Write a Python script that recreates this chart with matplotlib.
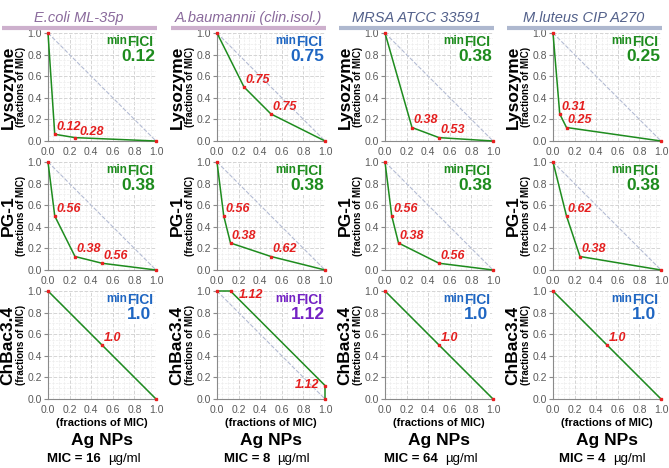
import matplotlib.pyplot as plt
from matplotlib.ticker import MultipleLocator

plt.rcParams['font.family'] = ['Liberation Sans', 'DejaVu Sans']

strains = ['E.coli ML-35p', 'A.baumannii (clin.isol.)', 'MRSA ATCC 33591', 'M.luteus CIP A270']
mic_agnp = ['16', '8', '64', '4']
peptides = ['Lysozyme', 'PG-1', 'ChBac3.4']
ticks = [0.0, 0.2, 0.4, 0.6, 0.8, 1.0]
tick_labels = ['0.0', '0.2', '0.4', '0.6', '0.8', '1.0']

# isobologram points: x = Ag NPs, y = peptide (fractions of MIC), per row then column
iso_x = [
    [[0, 0.0625, 0.25, 1], [0, 0.25, 0.5, 1], [0, 0.25, 0.5, 1], [0, 0.0625, 0.125, 1]],
    [[0, 0.0625, 0.25, 0.5, 1], [0, 0.0625, 0.125, 0.5, 1], [0, 0.0625, 0.125, 0.5, 1], [0, 0.125, 0.25, 1]],
    [[0, 0.5, 1], [0, 0.125, 1, 1], [0, 0.5, 1], [0, 0.5, 1]],
]
iso_y = [
    [[1, 0.0625, 0.03125, 0], [1, 0.5, 0.25, 0], [1, 0.125, 0.03125, 0], [1, 0.25, 0.125, 0]],
    [[1, 0.5, 0.125, 0.0625, 0], [1, 0.5, 0.25, 0.125, 0], [1, 0.5, 0.25, 0.0625, 0], [1, 0.5, 0.125, 0]],
    [[1, 0.5, 0], [1, 1, 0.125, 0], [1, 0.5, 0], [1, 0.5, 0]],
]
# FICI labels for each point (None = no label)
fici = [
    [[None, '0.12', '0.28', None], [None, '0.75', '0.75', None], [None, '0.38', '0.53', None], [None, '0.31', '0.25', None]],
    [[None, '0.56', '0.38', '0.56', None], [None, '0.56', '0.38', '0.62', None], [None, '0.56', '0.38', '0.56', None], [None, '0.62', '0.38', None]],
    [[None, '1.0', None], [None, '1.12', '1.12', None], [None, '1.0', None], [None, '1.0', None]],
]
min_fici = [
    ['0.12', '0.75', '0.38', '0.25'],
    ['0.38', '0.38', '0.38', '0.38'],
    ['1.0', '1.12', '1.0', '1.0'],
]

GREEN = '#1e8c1e'
BLUE = '#1f66c2'
PURPLE = '#7422c4'
fici_col = {'0.12': GREEN, '0.38': GREEN, '0.25': GREEN, '0.75': BLUE, '1.0': BLUE, '1.12': PURPLE}

W, H = 669, 468
fig = plt.figure(figsize=(W / 100, H / 100), dpi=100)

lefts = [48, 217, 385, 553]
tops = [33, 162, 291]
size = 108

title_col = ['#8a6a9c', '#8a6a9c', '#52608a', '#52608a']
bar_col = ['#cdb0cd', '#cdb0cd', '#aeb8cf', '#aeb8cf']

for c in range(4):
    L = lefts[c]
    fig.text((L + 31) / W, 1 - 18 / H, strains[c], ha='center', va='center',
             style='italic', fontsize=10.5, color=title_col[c])
    fig.add_artist(plt.Line2D([(L - 46) / W, (L + 109) / W], [1 - 28 / H, 1 - 28 / H],
                              color=bar_col[c], lw=3, solid_capstyle='butt'))
    cx = (L + size / 2) / W
    fig.text(cx, 1 - 423 / H, '(fractions of MIC)', ha='center', va='center',
             fontsize=8, fontweight='bold')
    fig.text(cx, 1 - 441 / H, 'Ag NPs', ha='center', va='center',
             fontsize=12.5, fontweight='bold')
    fig.text(cx + 6 / W, 1 - 459 / H, 'MIC = ' + mic_agnp[c] + '  ', ha='right', va='center',
             fontsize=9.5, fontweight='bold')
    fig.text(cx + 6 / W, 1 - 459 / H, 'µg/ml', ha='left', va='center', fontsize=9.5)

    for r in range(3):
        T = tops[r]
        ax = fig.add_axes([L / W, 1 - (T + size) / H, size / W, size / H])
        ax.set_xlim(0, 1)
        ax.set_ylim(0, 1)
        ax.set_xticks(ticks, tick_labels)
        ax.set_yticks(ticks, tick_labels)
        ax.xaxis.set_minor_locator(MultipleLocator(0.05))
        ax.yaxis.set_minor_locator(MultipleLocator(0.05))
        ax.grid(which='major', color='#d4d4d4', ls='--', lw=0.7)
        ax.grid(which='minor', color='#ececec', ls='--', lw=0.5)
        ax.set_axisbelow(True)
        for s in ['top', 'right']:
            ax.spines[s].set_visible(False)
        for s in ['left', 'bottom']:
            ax.spines[s].set_color('#8a8a8a')
        ax.tick_params(which='major', labelsize=7.5, labelcolor='#5a5a5a', color='#8a8a8a',
                       length=3, pad=1.5)
        ax.tick_params(axis='x', which='major', length=0, pad=4)
        ax.tick_params(which='minor', length=0)

        ax.plot([0, 1], [1, 0], color='#b4bcd4', ls='--', lw=0.8, zorder=2)
        xs, ys = iso_x[r][c], iso_y[r][c]
        ax.plot(xs, ys, color=GREEN, lw=1.1, zorder=3, clip_on=False)
        ax.plot(xs, ys, 's', color='#e82020', ms=2, zorder=4, clip_on=False)
        for i, (x, y, lab) in enumerate(zip(xs, ys, fici[r][c])):
            if lab is None:
                continue
            if x == 1:
                off, ha, va = (-4, 0), 'right', 'center'
            elif y == 1:
                off, ha, va = (6, -3), 'left', 'center'
            elif i > 1 and xs[i - 1] < 0.1 and ys[i - 1] < 0.1:
                off, ha, va = (3.5, -0.5), 'left', 'bottom'
            else:
                off, ha, va = (1, 1), 'left', 'bottom'
            ax.annotate(lab, (x, y), xytext=off, textcoords='offset points', ha=ha, va=va,
                        color='#e41e1e', fontsize=9, fontweight='bold', style='italic', zorder=5)

        col = fici_col[min_fici[r][c]]
        ft = ax.text(0.97, 0.92, 'FICI', transform=ax.transAxes, ha='right', va='center',
                     fontsize=10, fontweight='bold', color=col, zorder=6)
        ax.annotate('min', xy=(0, 0.12), xycoords=ft, ha='right', va='bottom',
                    fontsize=8.5, fontweight='bold', color=col, zorder=6)
        ax.text(0.84, 0.78, min_fici[r][c], transform=ax.transAxes, ha='center', va='center',
                fontsize=12.5, fontweight='bold', color=col, zorder=6,
                bbox=dict(boxstyle='square,pad=0.1', fc='white', ec='none'))

        yc = 1 - (T + size / 2) / H
        fig.text((L - 40) / W, yc, peptides[r], rotation=90, ha='center', va='center',
                 fontsize=12.5, fontweight='bold')
        fig.text((L - 27) / W, yc, '(fractions of MIC)', rotation=90, ha='center', va='center',
                 fontsize=7, fontweight='bold')

fig.savefig('out.png', dpi=100)
